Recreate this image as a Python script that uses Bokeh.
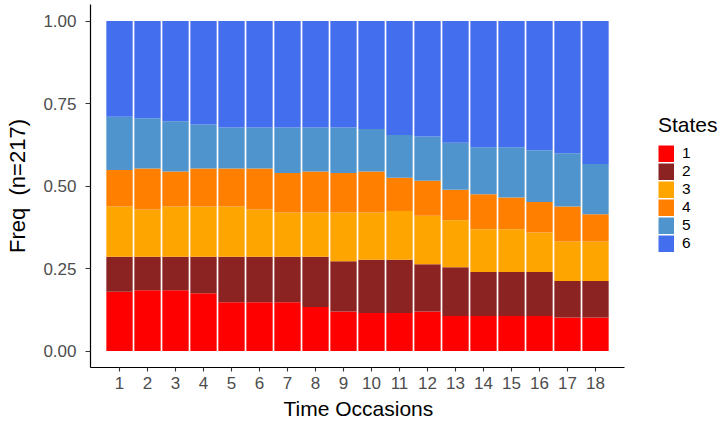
from bokeh.plotting import figure
from bokeh.models import ColumnDataSource, FixedTicker, Legend, LegendItem, NumeralTickFormatter, Range1d, Title
from bokeh.embed import file_html
from bokeh.resources import INLINE

# ---- data (counts out of n=217 per time occasion) ----
occasions = list(range(1, 19))
n_total = 217
state_labels = ["1", "2", "3", "4", "5", "6"]
state1 = [39, 40, 40, 38, 32, 32, 32, 29, 26, 25, 25, 26, 23, 23, 23, 23, 22, 22]
state2 = [23, 22, 22, 24, 30, 30, 30, 33, 33, 35, 35, 31, 32, 29, 29, 29, 24, 24]
state3 = [33, 31, 33, 33, 33, 31, 29, 29, 32, 31, 32, 32, 31, 28, 28, 26, 26, 26]
state4 = [24, 27, 23, 25, 25, 27, 26, 27, 26, 27, 22, 23, 20, 23, 21, 20, 23, 18]
state5 = [35, 33, 33, 29, 27, 27, 30, 29, 30, 28, 28, 29, 31, 31, 33, 34, 35, 33]
state6 = [63, 64, 66, 68, 70, 70, 70, 70, 70, 71, 75, 76, 80, 83, 83, 85, 87, 94]
y_ticks = [0.0, 0.25, 0.5, 0.75, 1.0]
colors = ["#FF0000", "#8B2323", "#FFA500", "#FF7F00", "#4F94CD", "#436EEE"]

counts = [state1, state2, state3, state4, state5, state6]
data = {"x": occasions}
keys = []
for lab, c in zip(state_labels, counts):
    k = "s" + lab
    keys.append(k)
    data[k] = [v / n_total for v in c]
source = ColumnDataSource(data)

FONT = "Liberation Sans"
X0, X1 = -0.036, 19.036          # axis extent (data units)
PX_PER_UNIT = 28.0
FRAME_W = 722 - 90 - 4
KEY_H = 17

p = figure(width=722, height=422, output_backend="svg", toolbar_location=None,
           x_range=Range1d(X0, X0 + FRAME_W / PX_PER_UNIT), y_range=Range1d(-0.05, 1.05),
           min_border_left=90, min_border_right=4, min_border_top=4, min_border_bottom=55)
p.outline_line_color = None
p.xgrid.visible = False
p.ygrid.visible = False
p.background_fill_color = "white"

rs = p.vbar_stack(keys, x="x", width=0.94, fill_color=colors, line_color=None, source=source)

# legend key swatches: thick butt-capped lines (kept off-screen) fill each key cell
key_renderers = [p.line(x=[-10, -9], y=[-10, -10], line_color=c, line_width=KEY_H, line_cap="butt")
                 for c in colors]

for ax in (p.xaxis[0], p.yaxis[0]):
    ax.axis_line_color = "black"
    ax.axis_line_width = 1.2
    ax.major_tick_line_color = "#333333"
    ax.major_tick_line_width = 1.1
    ax.major_tick_in = 0
    ax.minor_tick_line_color = None
    ax.major_label_text_font = FONT
    ax.major_label_text_font_size = "17px"
    ax.major_label_text_color = "#4D4D4D"
    ax.axis_label_text_font = FONT
    ax.axis_label_text_font_size = "22px"
    ax.axis_label_text_font_style = "normal"
    ax.axis_label_text_color = "black"

p.xaxis.bounds = (X0, X1)
p.xaxis.ticker = FixedTicker(ticks=occasions)
p.xaxis.major_tick_out = 4
p.xaxis.major_label_standoff = 5

p.yaxis.ticker = FixedTicker(ticks=y_ticks)
p.yaxis.formatter = NumeralTickFormatter(format="0.00")
p.yaxis.major_tick_out = 5
p.yaxis.major_label_standoff = 9
p.yaxis.axis_label = "Freq \u00a0(n=217)"
p.yaxis.axis_label_standoff = 10

xtitle = Title(text="Time Occasions", align="left", offset=193, standoff=6,
               text_font=FONT, text_font_size="21px", text_font_style="normal",
               text_color="black", text_line_height=1.0)
p.add_layout(xtitle, "below")

items = [LegendItem(label=lab, renderers=[r]) for lab, r in zip(state_labels, key_renderers)]
legend = Legend(items=items, location=(568, 115), title="States",
                title_text_font=FONT, title_text_font_size="21px", title_text_color="black",
                title_text_font_style="normal", title_standoff=7,
                label_text_font=FONT, label_text_font_size="15.5px", label_text_color="black",
                label_standoff=8, label_height=KEY_H, glyph_height=KEY_H, glyph_width=16,
                spacing=0, padding=0, margin=0,
                border_line_color=None, background_fill_alpha=0)
p.add_layout(legend, "center")

open("out.html", "w").write(file_html(p, INLINE))
